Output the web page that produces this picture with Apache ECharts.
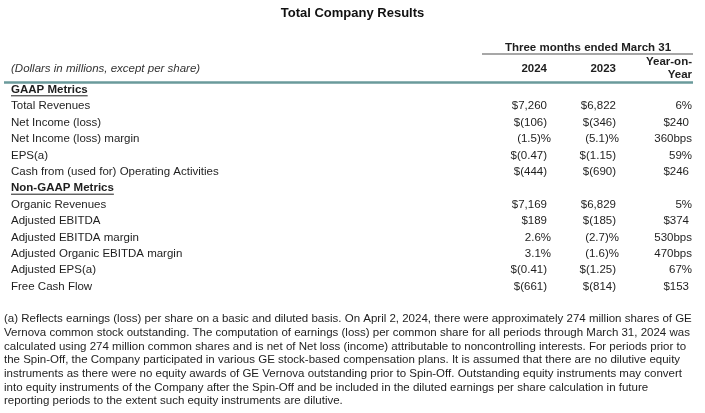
<!DOCTYPE html>
<html>
<head>
<meta charset="utf-8">
<script src="https://cdn.jsdelivr.net/npm/echarts@6/dist/echarts.min.js"></script>
<style>
html,body{margin:0;padding:0;background:#fff;}
#chart{width:705px;height:413px;}
</style>
</head>
<body>
<div id="chart"></div>
<script>
// ---- data ----
const chartTitle = 'Total Company Results';
const periodHeader = 'Three months ended March 31';
const unitNote = '(Dollars in millions, except per share)';
const columnHeaders = ['2024', '2023', 'Year-on-\nYear'];
const rowLabels = ['GAAP Metrics', 'Total Revenues', 'Net Income (loss)', 'Net Income (loss) margin', 'EPS(a)',
  'Cash from (used for) Operating Activities', 'Non-GAAP Metrics', 'Organic Revenues', 'Adjusted EBITDA',
  'Adjusted EBITDA margin', 'Adjusted Organic EBITDA margin', 'Adjusted EPS(a)', 'Free Cash Flow'];
const headerRows = ['GAAP Metrics', 'Non-GAAP Metrics'];
const values2024 = ['', '$7,260', '$(106)', '(1.5)%', '$(0.47)', '$(444)', '', '$7,169', '$189', '2.6%', '3.1%', '$(0.41)', '$(661)'];
const values2023 = ['', '$6,822', '$(346)', '(5.1)%', '$(1.15)', '$(690)', '', '$6,829', '$(185)', '(2.7)%', '(1.6)%', '$(1.25)', '$(814)'];
const valuesYoY = ['', '6%', '$240', '360bps', '59%', '$246', '', '5%', '$374', '530bps', '470bps', '67%', '$153'];
const footnoteLines = [
  '(a) Reflects earnings (loss) per share on a basic and diluted basis. On April 2, 2024, there were approximately 274 million shares of GE',
  'Vernova common stock outstanding. The computation of earnings (loss) per common share for all periods through March 31, 2024 was',
  'calculated using 274 million common shares and is net of Net loss (income) attributable to noncontrolling interests. For periods prior to',
  'the Spin-Off, the Company participated in various GE stock-based compensation plans. It is assumed that there are no dilutive equity',
  'instruments as there were no equity awards of GE Vernova outstanding prior to Spin-Off. Outstanding equity instruments may convert',
  'into equity instruments of the Company after the Spin-Off and be included in the diluted earnings per share calculation in future',
  'reporting periods to the extent such equity instruments are dilutive.'
];

// ---- layout / style ----
const FONT_FAMILY = "'Liberation Sans', Arial, sans-serif";
const FS = 11.5;
const TXT = '#1e1e1e';
const LABEL_X = 11;
const COL_ANCHOR = [547, 616, 692];          // right edges of columns (x-axis units = px)
const PCT_OVERHANG = [4, 3, 0];              // extra shift for % cells
const DOLLAR_SHIFT = [0, 0, -3];             // shift for $ cells
const font = (w, s, st) => (st || 'normal') + ' ' + (w || 'normal') + ' ' + (s || FS) + 'px ' + FONT_FAMILY;

const measureCtx = document.createElement('canvas').getContext('2d');
function textWidth(t, f) { measureCtx.font = f; return measureCtx.measureText(t).width; }

function cellShift(col, s) {
  if (s.endsWith('%')) return PCT_OVERHANG[col];
  if (s.startsWith('$')) return DOLLAR_SHIFT[col];
  return 0;
}

const chart = echarts.init(document.getElementById('chart'), null, { renderer: 'canvas' });

const graphics = [];
// period header
graphics.push({ type: 'text', style: { text: periodHeader, x: 588, y: 48, font: font('bold'), fill: TXT, textAlign: 'center', textVerticalAlign: 'middle' } });
graphics.push({ type: 'line', shape: { x1: 482, y1: 54, x2: 693, y2: 54 }, style: { stroke: '#8a8a8a', lineWidth: 1.5 } });
// column headers
graphics.push({ type: 'text', style: { text: columnHeaders[0], x: COL_ANCHOR[0], y: 68.5, font: font('bold'), fill: TXT, textAlign: 'right', textVerticalAlign: 'middle' } });
graphics.push({ type: 'text', style: { text: columnHeaders[1], x: COL_ANCHOR[1], y: 68.5, font: font('bold'), fill: TXT, textAlign: 'right', textVerticalAlign: 'middle' } });
columnHeaders[2].split('\n').forEach((t, k) => {
  graphics.push({ type: 'text', style: { text: t, x: COL_ANCHOR[2], y: 62 + k * 13, font: font('bold'), fill: TXT, textAlign: 'right', textVerticalAlign: 'middle' } });
});
// unit note
graphics.push({ type: 'text', style: { text: unitNote, x: LABEL_X, y: 69, font: font('normal', FS, 'italic'), fill: '#333', textAlign: 'left', textVerticalAlign: 'middle' } });
// teal rule
graphics.push({ type: 'line', shape: { x1: 4, y1: 82.5, x2: 693, y2: 82.5 }, style: { stroke: '#6a9a9b', lineWidth: 2.5 } });
// footnote
footnoteLines.forEach((t, k) => {
  graphics.push({ type: 'text', style: { text: t, x: 4, y: 319 + k * 13.7, font: font(), fill: TXT, textAlign: 'left', textVerticalAlign: 'middle' } });
});

const option = {
  animation: false,
  backgroundColor: '#fff',
  title: {
    text: chartTitle, left: 'center', top: 2,
    textStyle: { fontFamily: FONT_FAMILY, fontSize: 13, fontWeight: 'bold', color: '#111' }
  },
  grid: { left: 0, right: 0, top: 81.6, height: 13 * 16.4, containLabel: false },
  xAxis: { type: 'value', min: 0, max: 705, show: false },
  yAxis: { type: 'category', data: rowLabels, inverse: true, show: false },
  graphic: graphics,
  series: [{
    type: 'custom',
    coordinateSystem: 'cartesian2d',
    silent: true,
    data: rowLabels.map((lab, i) => [0, i]),
    renderItem: function (params, api) {
      const i = api.value(1);
      const y = api.coord([0, i])[1];
      const label = rowLabels[i];
      const isHeader = headerRows.indexOf(label) >= 0;
      const children = [];
      const lf = font(isHeader ? 'bold' : 'normal');
      children.push({ type: 'text', style: { text: label, x: api.coord([LABEL_X, i])[0], y: y, font: lf, fill: TXT, textAlign: 'left', textVerticalAlign: 'middle' } });
      if (isHeader) {
        const w = textWidth(label, lf);
        const x0 = api.coord([LABEL_X, i])[0];
        children.push({ type: 'line', shape: { x1: x0, y1: y + 6, x2: x0 + w, y2: y + 6 }, style: { stroke: TXT, lineWidth: 1 } });
      }
      [values2024, values2023, valuesYoY].forEach((arr, c) => {
        const s = arr[i];
        if (!s) return;
        const x = api.coord([COL_ANCHOR[c] + cellShift(c, s), i])[0];
        children.push({ type: 'text', style: { text: s, x: x, y: y, font: font(), fill: TXT, textAlign: 'right', textVerticalAlign: 'middle' } });
      });
      return { type: 'group', children: children };
    }
  }]
};
chart.setOption(option);
</script>
</body>
</html>
